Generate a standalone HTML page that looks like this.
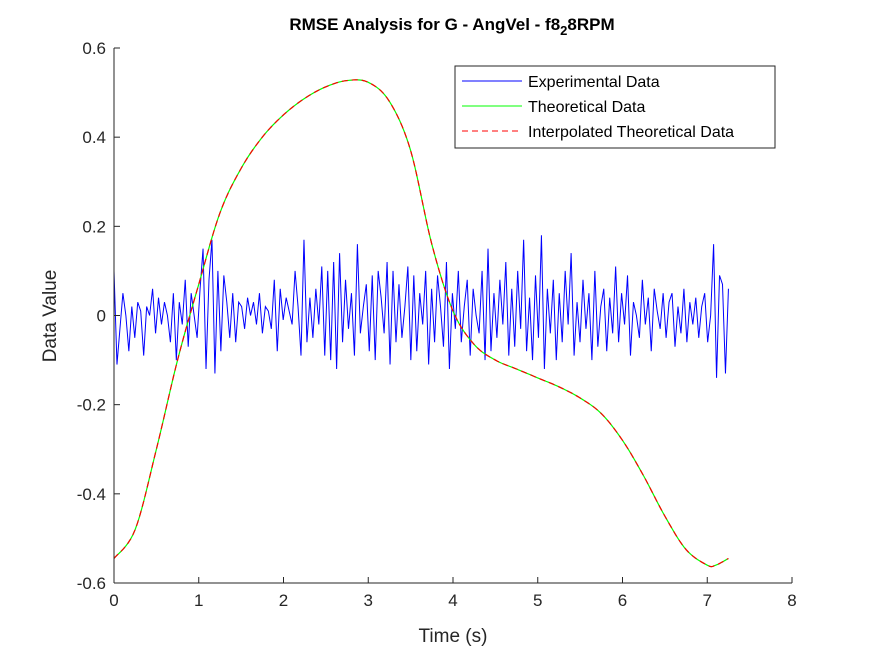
<!DOCTYPE html>
<html><head><meta charset="utf-8"><style>
body{margin:0;background:#fff;}
svg text{font-family:"Liberation Sans",Arial,sans-serif;}
</style></head><body>
<svg id="chart" width="875" height="656" viewBox="0 0 875 656">
<rect width="875" height="656" fill="#fff"/>
<text x="452" y="30" text-anchor="middle" font-size="17" font-weight="bold">RMSE Analysis for G - AngVel - f8<tspan dy="5" font-size="13">2</tspan><tspan dy="-5">8RPM</tspan></text>
<g id="plot"></g>
<g id="axes"></g>
<text x="453" y="642" text-anchor="middle" font-size="19" fill="#262626">Time (s)</text>
<text transform="translate(56,316) rotate(-90)" text-anchor="middle" font-size="19" fill="#262626">Data Value</text>
<g>
<rect x="455" y="66" width="320" height="82" fill="#fff" stroke="#262626" stroke-width="1"/>
<g><line x1="462" y1="81" x2="522" y2="81" stroke="#0000ff"/><text x="528" y="87" font-size="16">Experimental Data</text></g>
<g><line x1="462" y1="106" x2="522" y2="106" stroke="#00ff00"/><text x="528" y="112" font-size="16">Theoretical Data</text></g>
<g><line x1="462" y1="131" x2="522" y2="131" stroke="#ff0000" stroke-dasharray="6,4"/><text x="528" y="137" font-size="16">Interpolated Theoretical Data</text></g>
</g>
</svg>
<script>
const xTicks=[0,1,2,3,4,5,6,7,8];
const yTicks=[-0.6,-0.4,-0.2,0,0.2,0.4,0.6];
const yTickLabels=["-0.6","-0.4","-0.2","0","0.2","0.4","0.6"];
const theoT=[0,0.25,0.5,0.75,1,1.25,1.5,1.75,2,2.25,2.5,2.75,3,3.25,3.5,3.75,4,4.25,4.5,4.75,5,5.25,5.5,5.75,6,6.25,6.5,6.75,7,7.1,7.25];
const theoV=[-0.545,-0.48,-0.3,-0.1,0.07,0.23,0.33,0.4,0.45,0.487,0.513,0.527,0.523,0.48,0.37,0.16,0.01,-0.065,-0.1,-0.12,-0.14,-0.16,-0.185,-0.22,-0.28,-0.36,-0.45,-0.525,-0.56,-0.56,-0.545];
const expV=[0.1,-0.11,-0.03,0.05,0.0,-0.08,0.02,-0.05,0.03,0.01,-0.09,0.02,0.0,0.06,-0.04,0.04,-0.02,0.03,0.0,-0.06,0.05,-0.1,0.03,-0.02,0.08,-0.07,0.05,0.0,-0.05,0.06,
0.15,-0.12,0.08,0.17,-0.13,0.1,-0.08,0.09,0.03,-0.05,0.05,-0.06,0.03,0.02,-0.03,0.04,0.0,0.03,-0.02,0.05,
-0.04,0.02,0.01,-0.03,0.08,-0.08,0.06,-0.01,0.04,0.01,-0.02,0.1,0.02,-0.09,0.17,-0.06,0.04,-0.05,0.06,-0.02,
0.11,-0.09,0.1,-0.1,0.12,-0.12,0.14,-0.06,0.08,-0.03,0.05,-0.09,0.16,-0.04,0.02,0.07,-0.08,0.09,-0.1,0.1,
0.04,-0.04,0.12,-0.11,0.1,-0.06,0.07,-0.05,0.02,0.11,-0.1,0.09,-0.08,0.05,-0.02,0.1,-0.11,0.06,-0.06,0.09,
0.02,-0.07,0.12,-0.12,0.05,-0.03,0.1,-0.06,0.02,0.08,-0.09,0.06,0.0,-0.04,0.1,-0.1,0.15,-0.08,0.05,-0.05,
0.08,-0.02,0.12,-0.09,0.06,-0.07,0.1,-0.03,0.17,-0.08,0.04,-0.1,0.09,-0.05,0.18,-0.12,0.06,-0.04,0.08,-0.1,
0.05,-0.06,0.1,-0.02,0.14,-0.09,0.03,-0.06,0.08,-0.03,0.05,-0.1,0.1,-0.07,0.02,0.06,-0.08,0.04,-0.04,0.11,
-0.06,0.05,-0.02,0.09,-0.09,0.03,0.0,-0.05,0.08,-0.02,0.04,-0.08,0.06,0.01,-0.03,0.05,-0.05,0.03,0.05,-0.07,
0.02,-0.04,0.06,-0.06,0.03,-0.02,0.04,-0.05,0.02,0.05,-0.06,0.0,0.16,-0.14,0.09,0.07,-0.13,0.06];
const x0=114,x1=792,y0=583,y1=48;
const xs=v=>x0+(v-0)/8*(x1-x0);
const ys=v=>y0-(v+0.6)/1.2*(y0-y1);
const NS="http://www.w3.org/2000/svg";
const plot=document.getElementById('plot'),axes=document.getElementById('axes');
function mk(tag,attrs,parent){const e=document.createElementNS(NS,tag);for(const k in attrs)e.setAttribute(k,attrs[k]);parent.appendChild(e);return e;}
const tEnd=7.25;
let d=expV.map((v,i)=>(i?'L':'M')+xs(i*tEnd/(expV.length-1)).toFixed(2)+','+ys(v).toFixed(2)).join('');
const ex=mk('path',{d:d,fill:'none',stroke:'#0000ff','stroke-width':1},plot);


let pts=[];
for(let i=0;i<theoT.length-1;i++){
 const p0=Math.max(0,i-1),p3=Math.min(theoT.length-1,i+2);
 for(let s=0;s<10;s++){const u=s/10;
  const cr=(a,b,c,e)=>0.5*((2*b)+(-a+c)*u+(2*a-5*b+4*c-e)*u*u+(-a+3*b-3*c+e)*u*u*u);
  pts.push([cr(theoT[p0],theoT[i],theoT[i+1],theoT[p3]),cr(theoV[p0],theoV[i],theoV[i+1],theoV[p3])]);}
}
pts.push([theoT[theoT.length-1],theoV[theoV.length-1]]);
const td=pts.map((p,i)=>(i?'L':'M')+xs(p[0]).toFixed(2)+','+ys(p[1]).toFixed(2)).join('');
const th=mk('path',{d:td,fill:'none',stroke:'#00ff00','stroke-width':1.2},plot);


const ip=mk('path',{d:td,fill:'none',stroke:'#ff0000','stroke-width':1.2,'stroke-dasharray':'6,4'},plot);


const xa=mk('line',{x1:x0,y1:y0,x2:x1,y2:y0,stroke:'#262626'},axes);


const ya=mk('line',{x1:x0,y1:y0,x2:x0,y2:y1,stroke:'#262626'},axes);


xTicks.forEach(t=>{const x=xs(t);
 mk('line',{x1:x,y1:y0,x2:x,y2:y0-6,stroke:'#262626'},axes);
 const tx=mk('text',{x:x,y:y0+23,'text-anchor':'middle','font-size':17,fill:'#262626'},axes);
 tx.textContent=t;
 
 });
yTicks.forEach((t,i)=>{const y=ys(t);
 mk('line',{x1:x0,y1:y,x2:x0+6,y2:y,stroke:'#262626'},axes);
 const tx=mk('text',{x:x0-8,y:y+6,'text-anchor':'end','font-size':17,fill:'#262626'},axes);
 tx.textContent=yTickLabels[i];
 
 });
</script>
</body></html>
